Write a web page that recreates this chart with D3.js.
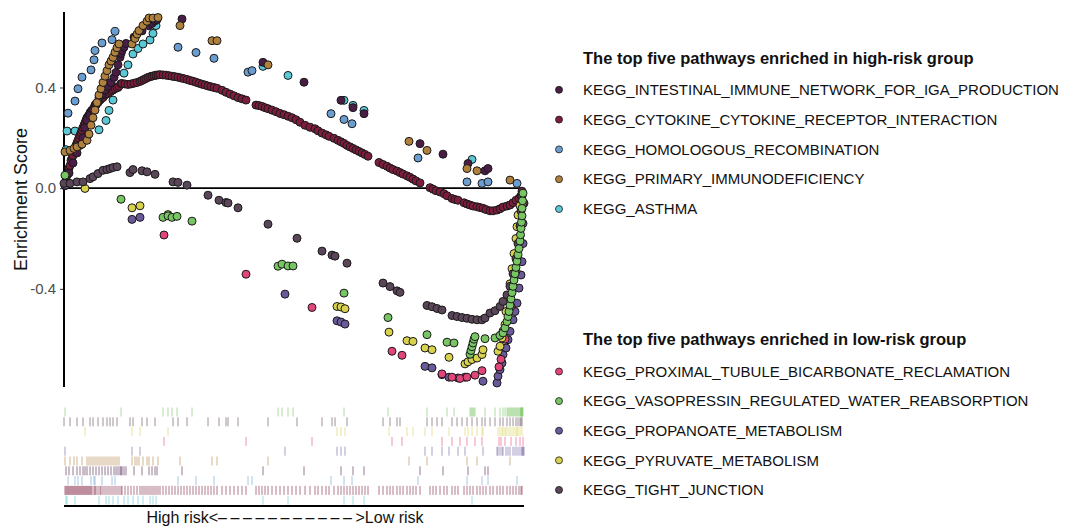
<!DOCTYPE html>
<html lang="en">
<head>
<meta charset="UTF-8">
<title>GSEA: high-risk vs low-risk pathways</title>
<script src="https://d3js.org/d3.v7.min.js"></script>
<style>
  body { margin: 0; background: #fff; font-family: "Liberation Sans", Arial, sans-serif; }
  .legend-title { font-weight: bold; font-size: 16.5px; fill: #111; }
  .legend-item { font-size: 15px; fill: #111; }
</style>
</head>
<body>
<svg id="chart" width="1082" height="529"></svg>
<script>
// --- data: running enrichment score at each hit, [rank position, ES] ---
// rank positions are on a 0..460 scale of the ranked gene list
const rankMax = 460;

const esAsthma = [[2,0.153],[3,0.227],[11,0.227],[35,0.232],[42,0.269],[45,0.309],[49,0.35],[54,0.40],[60,0.457],[64,0.49],[69,0.533],[74,0.555],[79,0.573],[86,0.589],[89,0.615],[92,0.646],[199,0.484],[224,0.448],[280,0.349],[289,0.329],[300,0.309],[408,0.114]];

const esCytokine = [[1,0.01],[2,0.03],[3,0.05],[4,0.06],[5,0.08],[6,0.09],[7,0.11],[8,0.12],[9,0.13],[10,0.145],[11,0.16],[12,0.17],[13,0.18],[14,0.19],[15,0.20],[16,0.21],[17,0.22],[18,0.23],[19,0.24],[20,0.25],[21,0.26],[22,0.27],[23,0.28],[24,0.285],[25,0.29],[26,0.30],[27,0.305],[28,0.31],[30,0.32],[31,0.33],[32,0.335],[34,0.34],[36,0.35],[37,0.355],[39,0.36],[41,0.37],[43,0.375],[45,0.38],[47,0.385],[49,0.39],[51,0.395],[53,0.40],[55,0.405],[57,0.415],[58,0.416],[61,0.414],[64,0.412],[67,0.414],[70,0.417],[73,0.420],[76,0.424],[78,0.428],[80,0.432],[82,0.436],[84,0.440],[86,0.443],[88,0.445],[90,0.447],[92,0.449],[94,0.450],[96,0.451],[99,0.450],[102,0.449],[105,0.447],[108,0.445],[111,0.443],[114,0.441],[117,0.438],[120,0.435],[123,0.432],[126,0.428],[129,0.425],[132,0.421],[135,0.417],[138,0.413],[141,0.410],[144,0.406],[147,0.403],[150,0.400],[153,0.397],[158,0.389],[162,0.381],[166,0.374],[170,0.367],[174,0.360],[178,0.355],[182,0.350],[192,0.330],[195,0.328],[198,0.325],[201,0.320],[204,0.316],[208,0.310],[212,0.304],[216,0.297],[220,0.292],[224,0.286],[228,0.280],[232,0.272],[236,0.262],[241,0.250],[246,0.242],[251,0.236],[254,0.228],[258,0.219],[262,0.212],[265,0.206],[270,0.198],[274,0.190],[277,0.184],[280,0.178],[283,0.170],[286,0.164],[289,0.158],[292,0.152],[295,0.146],[298,0.140],[301,0.134],[304,0.127],[315,0.102],[319,0.094],[323,0.087],[326,0.080],[329,0.074],[333,0.068],[336,0.062],[339,0.056],[343,0.049],[346,0.043],[349,0.036],[352,0.029],[356,0.021],[366,0.002],[369,-0.004],[372,-0.010],[376,-0.015],[380,-0.022],[383,-0.030],[388,-0.041],[391,-0.045],[394,-0.048],[400,-0.058],[403,-0.063],[406,-0.067],[409,-0.071],[413,-0.074],[416,-0.077],[419,-0.080],[422,-0.085],[426,-0.090],[429,-0.090],[433,-0.087],[436,-0.082],[439,-0.075],[443,-0.071],[446,-0.067],[449,-0.058],[452,-0.048],[455,-0.040],[457,-0.030],[458,-0.012]];

const esHomologous = [[4,0.298],[11,0.346],[14,0.395],[18,0.441],[27,0.47],[30,0.51],[31,0.547],[38,0.577],[48,0.59],[51,0.623],[114,0.56],[132,0.539],[150,0.516],[184,0.461],[188,0.467],[267,0.296],[280,0.273],[288,0.256],[354,0.12],[403,0.025],[418,0.019],[424,0.025],[453,0.019]];

const esIntestinal = [[2,0.02],[5,0.06],[9,0.10],[13,0.14],[16,0.17],[19,0.20],[21,0.24],[23,0.27],[26,0.29],[29,0.31],[32,0.33],[35,0.36],[38,0.375],[41,0.39],[44,0.405],[47,0.42],[50,0.44],[52,0.46],[54,0.49],[56,0.52],[57,0.535],[58,0.547],[60,0.56],[62,0.575],[70,0.60],[78,0.625],[85,0.645],[88,0.655],[91,0.665],[93,0.67],[118,0.672],[199,0.50],[240,0.421],[277,0.349],[289,0.32],[300,0.296],[356,0.177],[379,0.135],[404,0.098],[421,0.069],[424,0.078]];

const esPrimary = [[1,0.144],[6,0.15],[10,0.158],[13,0.164],[18,0.175],[23,0.19],[25,0.215],[27,0.25],[29,0.28],[31,0.31],[33,0.34],[35,0.37],[37,0.395],[39,0.42],[41,0.445],[43,0.467],[45,0.49],[47,0.505],[49,0.52],[51,0.54],[53,0.558],[55,0.573],[68,0.573],[71,0.595],[73,0.612],[75,0.626],[79,0.646],[83,0.663],[85,0.676],[89,0.676],[94,0.678],[116,0.646],[148,0.586],[153,0.586],[204,0.49],[345,0.186],[363,0.15],[403,0.078],[413,0.069],[446,0.032]];

const esPropanoate = [[1,0.012],[68,-0.124],[76,-0.116],[221,-0.421],[273,-0.527],[277,-0.532],[281,-0.54],[361,-0.708],[368,-0.714],[378,-0.741],[385,-0.751],[394,-0.754],[401,-0.751],[419,-0.767],[433,-0.774],[434,-0.747],[436,-0.721],[438,-0.695],[439,-0.661],[442,-0.635],[444,-0.602],[446,-0.569],[449,-0.523],[451,-0.49],[453,-0.457],[455,-0.397],[457,-0.345],[458,-0.292],[459,-0.22],[459,-0.14],[460,-0.06]];

const esProximal = [[100,-0.186],[182,-0.342],[248,-0.474],[328,-0.648],[338,-0.664],[378,-0.738],[388,-0.751],[396,-0.756],[403,-0.751],[411,-0.743],[418,-0.725],[435,-0.71],[437,-0.68],[441,-0.60],[447,-0.47],[452,-0.33],[456,-0.19],[459,-0.06]];

const esPyruvate = [[21,-0.001],[68,-0.078],[76,-0.07],[104,-0.105],[273,-0.47],[277,-0.472],[281,-0.479],[325,-0.572],[343,-0.606],[349,-0.609],[361,-0.635],[368,-0.642],[385,-0.672],[401,-0.698],[404,-0.69],[408,-0.681],[413,-0.675],[418,-0.661],[419,-0.642],[434,-0.648],[436,-0.628],[438,-0.595],[439,-0.568],[441,-0.542],[442,-0.49],[444,-0.44],[446,-0.38],[448,-0.32],[450,-0.26],[452,-0.2],[453,-0.153],[454,-0.107],[456,-0.07],[458,-0.03]];

const esTight = [[0,0.019],[6,0.019],[13,0.025],[19,0.025],[26,0.038],[29,0.045],[34,0.058],[39,0.071],[43,0.074],[46,0.078],[49,0.082],[53,0.085],[66,0.062],[69,0.074],[78,0.069],[83,0.065],[91,0.055],[109,0.025],[114,0.023],[123,0.012],[144,-0.028],[155,-0.048],[162,-0.057],[164,-0.059],[174,-0.078],[204,-0.143],[233,-0.199],[258,-0.25],[268,-0.266],[271,-0.27],[283,-0.298],[319,-0.377],[326,-0.391],[333,-0.408],[336,-0.414],[363,-0.466],[368,-0.471],[373,-0.478],[378,-0.484],[388,-0.506],[393,-0.51],[398,-0.514],[403,-0.517],[408,-0.521],[413,-0.523],[418,-0.523],[421,-0.516],[426,-0.496],[431,-0.487],[436,-0.47],[439,-0.45],[443,-0.424],[446,-0.39],[449,-0.34],[452,-0.28],[454,-0.22],[456,-0.15],[457,-0.09],[458,-0.03]];

const esVasopressin = [[1,0.051],[57,-0.044],[99,-0.116],[104,-0.11],[108,-0.116],[113,-0.112],[128,-0.131],[214,-0.31],[218,-0.302],[224,-0.309],[229,-0.309],[280,-0.417],[324,-0.514],[363,-0.582],[383,-0.612],[390,-0.615],[406,-0.66],[407,-0.645],[408,-0.63],[409,-0.615],[410,-0.60],[411,-0.59],[421,-0.598],[431,-0.595],[436,-0.585],[439,-0.575],[441,-0.555],[443,-0.53],[444,-0.51],[445,-0.49],[446,-0.465],[447,-0.44],[448,-0.415],[449,-0.39],[450,-0.365],[451,-0.34],[452,-0.315],[453,-0.29],[454,-0.265],[455,-0.24],[456,-0.21],[456.5,-0.185],[457,-0.16],[457.5,-0.135],[458,-0.11],[458,-0.08],[458.5,-0.05],[459,-0.02]];

// pathway names, in factor (alphabetical) order
const pathwayNames = [
  "KEGG_ASTHMA",
  "KEGG_CYTOKINE_CYTOKINE_RECEPTOR_INTERACTION",
  "KEGG_HOMOLOGOUS_RECOMBINATION",
  "KEGG_INTESTINAL_IMMUNE_NETWORK_FOR_IGA_PRODUCTION",
  "KEGG_PRIMARY_IMMUNODEFICIENCY",
  "KEGG_PROPANOATE_METABOLISM",
  "KEGG_PROXIMAL_TUBULE_BICARBONATE_RECLAMATION",
  "KEGG_PYRUVATE_METABOLISM",
  "KEGG_TIGHT_JUNCTION",
  "KEGG_VASOPRESSIN_REGULATED_WATER_REABSORPTION"
];
const pathwayColors = ["#5bc8d6", "#7c1d3c", "#6a9ed0", "#4a1d47", "#b0803d",
                       "#6b5a9b", "#e2457b", "#d8d24e", "#5a4658", "#78c563"];
const pathwayScores = [esAsthma, esCytokine, esHomologous, esIntestinal, esPrimary,
                       esPropanoate, esProximal, esPyruvate, esTight, esVasopressin];

const highRiskSets = [
  "KEGG_INTESTINAL_IMMUNE_NETWORK_FOR_IGA_PRODUCTION",
  "KEGG_CYTOKINE_CYTOKINE_RECEPTOR_INTERACTION",
  "KEGG_HOMOLOGOUS_RECOMBINATION",
  "KEGG_PRIMARY_IMMUNODEFICIENCY",
  "KEGG_ASTHMA"
];
const lowRiskSets = [
  "KEGG_PROXIMAL_TUBULE_BICARBONATE_RECLAMATION",
  "KEGG_VASOPRESSIN_REGULATED_WATER_REABSORPTION",
  "KEGG_PROPANOATE_METABOLISM",
  "KEGG_PYRUVATE_METABOLISM",
  "KEGG_TIGHT_JUNCTION"
];

const yTickValues = [-0.4, 0, 0.4];
const yTickLabels = ["-0.4", "0.0", "0.4"];

// --- layout ---
const plot = { left: 64, right: 524, top: 12, bottom: 387 };
const rugTop = 407.5, rugRow = 9.8, rugBase = 506;

const svg = d3.select("#chart");
const color = d3.scaleOrdinal().domain(pathwayNames).range(pathwayColors);

const x = d3.scaleLinear().domain([0, rankMax]).range([plot.left, plot.right]);
const y = d3.scaleLinear().domain([-0.79, 0.70]).range([plot.bottom, plot.top]);

// y axis
const yAxis = svg.append("g")
  .attr("transform", `translate(${plot.left},0)`)
  .call(d3.axisLeft(y).tickValues(yTickValues).tickSize(4).tickPadding(4)
        .tickFormat((d, i) => yTickLabels[i]));
yAxis.select(".domain").remove();
yAxis.selectAll(".tick line").attr("stroke", "#333");
yAxis.selectAll(".tick text")
  .attr("fill", "#4d4d4d")
  .style("font-size", "15px")
  .style("font-family", "'Liberation Sans', Arial, sans-serif");

svg.append("line")
  .attr("x1", plot.left).attr("x2", plot.left)
  .attr("y1", plot.top).attr("y2", plot.bottom)
  .attr("stroke", "#000").attr("stroke-width", 2);

// zero line
svg.append("line")
  .attr("x1", x(0)).attr("x2", x(458))
  .attr("y1", y(0)).attr("y2", y(0))
  .attr("stroke", "#000").attr("stroke-width", 1.6);

svg.append("text")
  .attr("transform", `translate(27,${(plot.top + plot.bottom) / 2}) rotate(-90)`)
  .attr("text-anchor", "middle")
  .style("font-size", "18px")
  .attr("fill", "#111")
  .text("Enrichment Score");

// points, drawn in factor order
pathwayNames.forEach((name, k) => {
  svg.append("g")
    .selectAll("circle")
    .data(pathwayScores[k])
    .join("circle")
    .attr("cx", d => x(d[0]))
    .attr("cy", d => y(d[1]))
    .attr("r", 4)
    .attr("fill", color(name))
    .attr("stroke", "#1a1a1a")
    .attr("stroke-width", 1);
});

// rug of hit positions, reverse factor order from top
const rugOrder = pathwayNames.slice().reverse();
rugOrder.forEach((name, i) => {
  const k = pathwayNames.indexOf(name);
  svg.append("g")
    .selectAll("line")
    .data(pathwayScores[k])
    .join("line")
    .attr("x1", d => x(d[0])).attr("x2", d => x(d[0]))
    .attr("y1", rugTop + i * rugRow)
    .attr("y2", rugTop + (i + 1) * rugRow - 0.8)
    .attr("stroke", color(name))
    .attr("stroke-opacity", 0.65)
    .attr("stroke-width", 0.9);
});

svg.append("line")
  .attr("x1", x(0)).attr("x2", x(rankMax))
  .attr("y1", rugBase).attr("y2", rugBase)
  .attr("stroke", "#000").attr("stroke-width", 2);

const xLab = svg.append("text")
  .attr("x", 285).attr("y", 523)
  .attr("text-anchor", "middle")
  .style("font-size", "16px")
  .attr("fill", "#111");
xLab.append("tspan").text("High risk<");
xLab.append("tspan").style("letter-spacing", "3.6px").text("–––––––––––");
xLab.append("tspan").text(">Low risk");

// legends
function drawLegend(title, sets, titleY, firstY, step) {
  const g = svg.append("g");
  g.append("text").attr("class", "legend-title")
    .attr("x", 583).attr("y", titleY).text(title);
  sets.forEach((name, i) => {
    const cy = firstY + i * step;
    g.append("circle")
      .attr("cx", 559).attr("cy", cy - 5.2).attr("r", 3.5)
      .attr("fill", color(name)).attr("stroke", "#1a1a1a").attr("stroke-width", 0.8);
    g.append("text").attr("class", "legend-item")
      .attr("x", 583).attr("y", cy).text(name);
  });
}
drawLegend("The top five pathways enriched in high-risk group", highRiskSets, 64, 95, 29.8);
drawLegend("The top five pathways enriched in low-risk group", lowRiskSets, 345, 376.7, 29.6);
</script>
</body>
</html>
